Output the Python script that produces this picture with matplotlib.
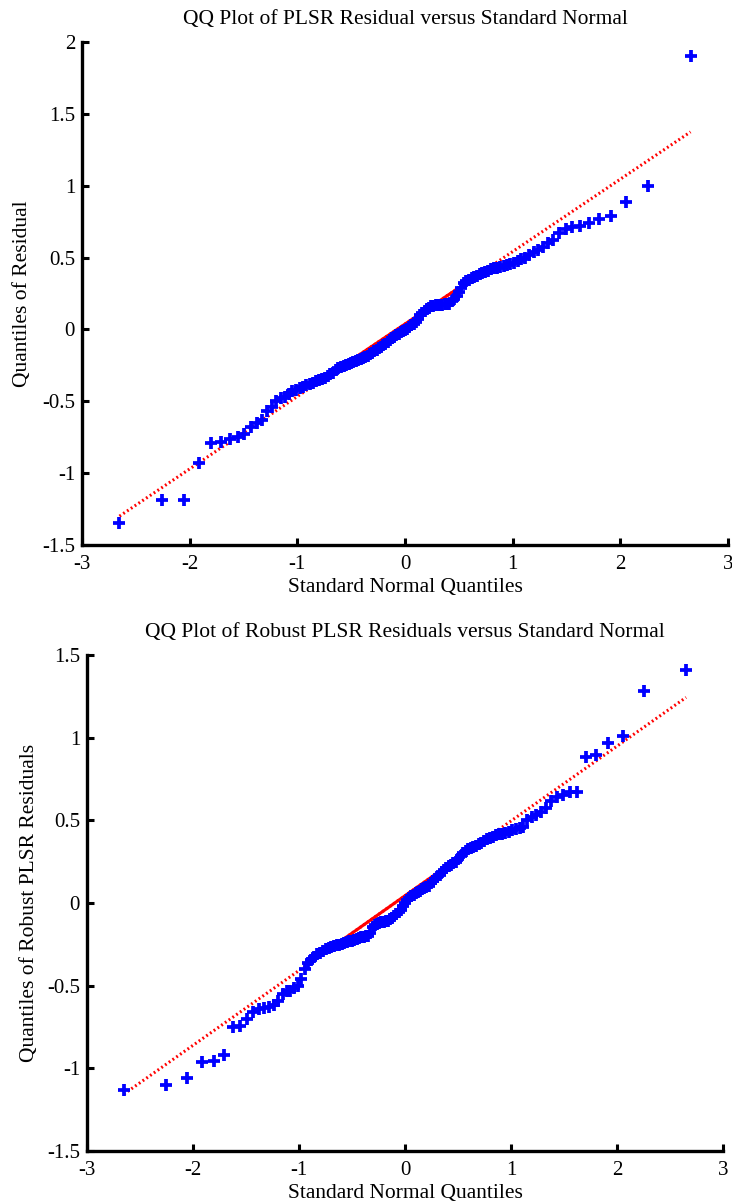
import numpy as np
import matplotlib
matplotlib.use("Agg")
import matplotlib.pyplot as plt
from statistics import NormalDist

plt.rcParams['font.family'] = ['Liberation Serif', 'DejaVu Serif']

# Sorted residuals (ascending)
plsr_residual = [
    -1.35, -1.19, -1.19, -0.93, -0.79, -0.78, -0.76, -0.75, -0.73, -0.68,
    -0.65, -0.63, -0.57, -0.54, -0.50, -0.48, -0.47, -0.45, -0.43, -0.42,
    -0.41, -0.40, -0.39, -0.38, -0.37, -0.36, -0.355, -0.345, -0.335, -0.325,
    -0.31, -0.30, -0.285, -0.27, -0.262, -0.255, -0.247, -0.24, -0.232, -0.225,
    -0.218, -0.212, -0.205, -0.198, -0.19, -0.182, -0.172, -0.162, -0.152, -0.142,
    -0.13, -0.12, -0.11, -0.098, -0.085, -0.072, -0.062, -0.05, -0.04, -0.03,
    -0.02, -0.012, -0.005, 0.005, 0.018, 0.03, 0.04, 0.05, 0.075, 0.098,
    0.115, 0.13, 0.142, 0.152, 0.16, 0.165, 0.168, 0.17, 0.172, 0.173,
    0.174, 0.176, 0.18, 0.195, 0.215, 0.235, 0.26, 0.29, 0.32, 0.335,
    0.345, 0.355, 0.365, 0.375, 0.385, 0.395, 0.403, 0.41, 0.418, 0.425,
    0.43, 0.435, 0.44, 0.447, 0.455, 0.465, 0.475, 0.488, 0.50, 0.52,
    0.54, 0.555, 0.575, 0.60, 0.62, 0.67, 0.70, 0.71, 0.72, 0.74,
    0.77, 0.79, 0.89, 1.00, 1.90,
]

robust_residual = [
    -1.13, -1.10, -1.06, -0.96, -0.955, -0.92, -0.75, -0.745, -0.70, -0.66,
    -0.64, -0.635, -0.628, -0.615, -0.59, -0.55, -0.535, -0.53, -0.515, -0.50,
    -0.46, -0.40, -0.365, -0.345, -0.325, -0.31, -0.30, -0.29, -0.28, -0.27,
    -0.265, -0.26, -0.256, -0.252, -0.248, -0.242, -0.237, -0.232, -0.227, -0.222,
    -0.217, -0.212, -0.208, -0.205, -0.202, -0.198, -0.18, -0.145, -0.135, -0.125,
    -0.118, -0.114, -0.112, -0.11, -0.106, -0.098, -0.09, -0.08, -0.068, -0.055,
    -0.04, -0.02, 0.0, 0.018, 0.03, 0.04, 0.05, 0.06, 0.068, 0.075,
    0.082, 0.088, 0.094, 0.105, 0.118, 0.132, 0.148, 0.16, 0.172, 0.185,
    0.20, 0.212, 0.222, 0.232, 0.242, 0.25, 0.265, 0.282, 0.30, 0.315,
    0.325, 0.33, 0.338, 0.347, 0.355, 0.365, 0.375, 0.385, 0.393, 0.40,
    0.41, 0.415, 0.42, 0.425, 0.432, 0.44, 0.448, 0.455, 0.46, 0.50,
    0.52, 0.53, 0.55, 0.575, 0.615, 0.64, 0.655, 0.67, 0.672, 0.885,
    0.895, 0.965, 1.01, 1.285, 1.41,
]

titles = ["QQ Plot of PLSR Residual versus Standard Normal",
          "QQ Plot of Robust PLSR Residuals versus Standard Normal"]
ylabels = ["Quantiles of Residual", "Quantiles of Robust PLSR Residuals"]
xlabel = "Standard Normal Quantiles"
xticks = [-3, -2, -1, 0, 1, 2, 3]
yticks_top = [-1.5, -1, -0.5, 0, 0.5, 1, 1.5, 2]
yticks_bot = [-1.5, -1, -0.5, 0, 0.5, 1, 1.5]


def tick_fmt(v):
    return ("%g" % v)


def qq(ax, data, title, ylabel, yticks, ylabelpad):
    y = np.sort(np.asarray(data, dtype=float))
    n = len(y)
    nd = NormalDist()
    x = np.array([nd.inv_cdf((i - 0.5) / n) for i in range(1, n + 1)])
    # reference line through the quartiles
    q1, q3 = np.percentile(y, [25, 75], method="hazen")
    z1, z3 = nd.inv_cdf(0.25), nd.inv_cdf(0.75)
    slope = (q3 - q1) / (z3 - z1)
    icpt = q1 - slope * z1
    xe = np.array([x[0], x[-1]])
    ax.plot(xe, icpt + slope * xe, color=(1, 0, 0), linestyle=(0, (0.6, 0.9)),
            linewidth=2.2, zorder=2)
    xs = np.array([z1, z3])
    ax.plot(xs, icpt + slope * xs, color=(1, 0, 0), linewidth=2.2, zorder=2)
    ax.plot(x, y, linestyle='none', marker='+', color=(0, 0, 1),
            markersize=9, markeredgewidth=2.7, zorder=3)
    ax.set_xlim(-3, 3)
    ax.set_ylim(yticks[0], yticks[-1])
    ax.set_xticks(xticks)
    ax.set_xticklabels([tick_fmt(v) for v in xticks])
    ax.set_yticks(yticks)
    ax.set_yticklabels([tick_fmt(v) for v in yticks])
    for s in ['top', 'right']:
        ax.spines[s].set_visible(False)
    for s in ['left', 'bottom']:
        ax.spines[s].set_linewidth(2.4)
    ax.tick_params(direction='in', length=5, width=2.2, labelsize=15,
                   top=False, right=False)
    ax.tick_params(axis='x', pad=7)
    ax.tick_params(axis='y', pad=5)
    ax.set_title(title, fontsize=15.5, pad=13)
    ax.set_xlabel(xlabel, fontsize=15.5, labelpad=3)
    ax.set_ylabel(ylabel, fontsize=15.5, labelpad=ylabelpad)


fig = plt.figure(figsize=(7.32, 12.04), dpi=100)
ax1 = fig.add_axes([82 / 732, 1 - 545 / 1204, 646 / 732, 503 / 1204])
ax2 = fig.add_axes([87 / 732, 1 - 1151 / 1204, 636 / 732, 496 / 1204])
qq(ax1, plsr_residual, titles[0], ylabels[0], yticks_top, 7)
qq(ax2, robust_residual, titles[1], ylabels[1], yticks_bot, 6)
fig.savefig("out.png", dpi=100)
